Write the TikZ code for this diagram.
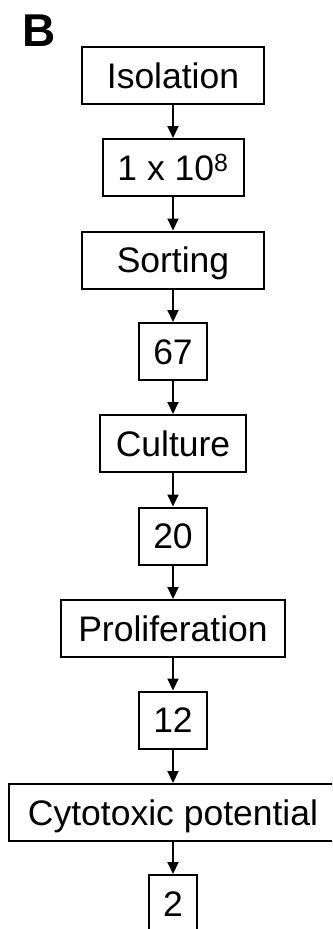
\documentclass[tikz,border=0pt]{standalone}
\usepackage{fontspec}
\setmainfont{Liberation Sans}
\usetikzlibrary{arrows.meta}
\begin{document}
\begin{tikzpicture}[x=1pt,y=-1pt,
  stepbox/.style={draw, line width=2pt, minimum height=57pt, inner sep=0pt,
    text height=25.4pt, text depth=0pt, font=\fontsize{35.5}{40}\selectfont},
  flow/.style={line width=2pt, -{Triangle[length=12pt,width=11pt]}}]
\clip (0,0) rectangle (332,929);
\useasboundingbox (0,0) rectangle (332,929);
\node[anchor=base west, inner sep=0pt, font=\fontsize{46}{50}\selectfont\bfseries] (lab) at (22,46) {B};
\node[stepbox, minimum width=182pt] (iso) at (173,75.5) {Isolation};
\node[stepbox, minimum width=141pt] (n1) at (173,167.5) {1 x 10\textsuperscript{8}};
\node[stepbox, minimum width=182pt] (sort) at (173,260) {Sorting};
\node[stepbox, minimum width=68pt] (n2) at (173,351.5) {67};
\node[stepbox, minimum width=146pt] (cult) at (173,443.5) {Culture};
\node[stepbox, minimum width=68pt] (n3) at (173,536) {20};
\node[stepbox, minimum width=224pt] (prol) at (173,628.5) {Proliferation};
\node[stepbox, minimum width=68pt] (n4) at (173,720) {12};
\node[stepbox, minimum width=328pt] (cyto) at (173,812.5) {Cytotoxic potential};
\node[stepbox, minimum width=48pt] (n5) at (173,903.5) {2};
\draw[flow] (iso) -- (n1);
\draw[flow] (n1) -- (sort);
\draw[flow] (sort) -- (n2);
\draw[flow] (n2) -- (cult);
\draw[flow] (cult) -- (n3);
\draw[flow] (n3) -- (prol);
\draw[flow] (prol) -- (n4);
\draw[flow] (n4) -- (cyto);
\draw[flow] (cyto) -- (n5);
\end{tikzpicture}
\end{document}
